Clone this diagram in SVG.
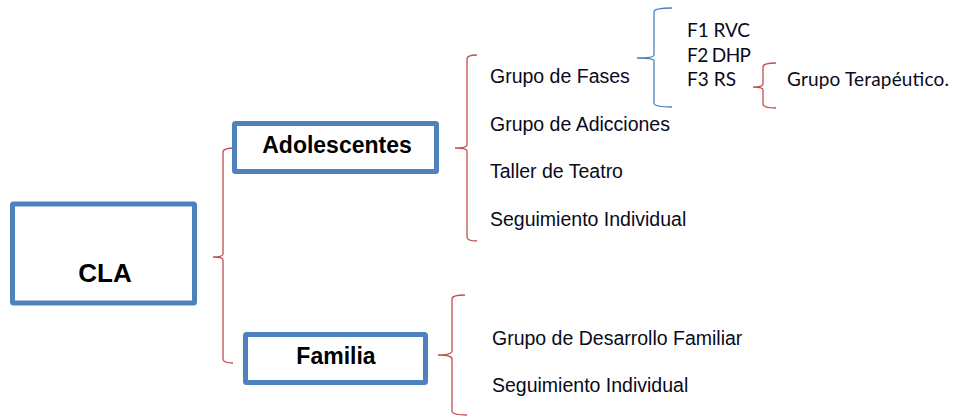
<svg xmlns="http://www.w3.org/2000/svg" width="955" height="417" viewBox="0 0 955 417">
<style>
.box{fill:#fff;stroke:#4F81BD;stroke-width:5}
.bl{font-family:"Liberation Sans",Arial,sans-serif;font-weight:bold;fill:#000;text-anchor:middle}
.t{font-family:"Liberation Sans",Arial,sans-serif;font-size:19.5px;fill:#0a0a1a}
.c{font-family:Lato,"Noto Sans",sans-serif;font-size:19px;fill:#0a0a1a}
.red{fill:none;stroke:#C0504D;stroke-width:1.3}
.blue{fill:none;stroke:#4F81BD;stroke-width:1.3}
</style>
<rect width="955" height="417" fill="#fff"/>
<g id="connectors">
<path class="red" d="M235,148 Q223,148 223,152 L223,254 Q223,257 213,257 Q223,257 223,260 L223,359 Q223,363 233,363"/>
<path class="red" d="M477,55 Q467,55 467,59 L467,145 Q467,148 455,148 Q467,148 467,151 L467,237 Q467,241 477,241"/>
<path class="red" d="M465,295 Q452,295 452,299 L452,351 Q452,355 438,355 Q452,355 452,359 L452,411 Q452,415 467,415"/>
<path class="blue" d="M672,8 Q654,8 654,12 L654,55 Q654,58 637,58 Q654,58 654,61 L654,103 Q654,107 672,107"/>
<path class="red" d="M776,63 Q763,63 763,67 L763,84 Q763,87 753,87 Q763,87 763,90 L763,104 Q763,108 776,108"/>
</g>
<g id="cla">
<rect class="box" x="12.5" y="204" width="182" height="99" rx="1"/>
<text class="bl" x="105" y="282" font-size="26">CLA</text>
</g>
<g id="adolescentes">
<rect class="box" x="234.5" y="123.5" width="202" height="48" rx="1"/>
<text class="bl" x="337" y="153" font-size="23">Adolescentes</text>
</g>
<g id="familia">
<rect class="box" x="245.5" y="334.5" width="180" height="48" rx="1"/>
<text class="bl" x="336" y="364" font-size="23">Familia</text>
</g>
<g id="grupo-fases"><text class="t" x="490" y="83">Grupo de Fases</text></g>
<g id="grupo-adicciones"><text class="t" x="490" y="131">Grupo de Adicciones</text></g>
<g id="taller-teatro"><text class="t" x="490" y="178">Taller de Teatro</text></g>
<g id="seguimiento-adol"><text class="t" x="490" y="226">Seguimiento Individual</text></g>
<g id="grupo-desarrollo"><text class="t" x="492" y="345">Grupo de Desarrollo Familiar</text></g>
<g id="seguimiento-fam"><text class="t" x="492" y="392">Seguimiento Individual</text></g>
<g id="f1"><text class="c" x="687" y="37" textLength="63">F1 RVC</text></g>
<g id="f2"><text class="c" x="687" y="61.5" textLength="64">F2 DHP</text></g>
<g id="f3"><text class="c" x="687" y="86" textLength="49">F3 RS</text></g>
<g id="grupo-terapeutico"><text class="c" x="787" y="86" textLength="162">Grupo Terapéutico.</text></g>
</svg>
